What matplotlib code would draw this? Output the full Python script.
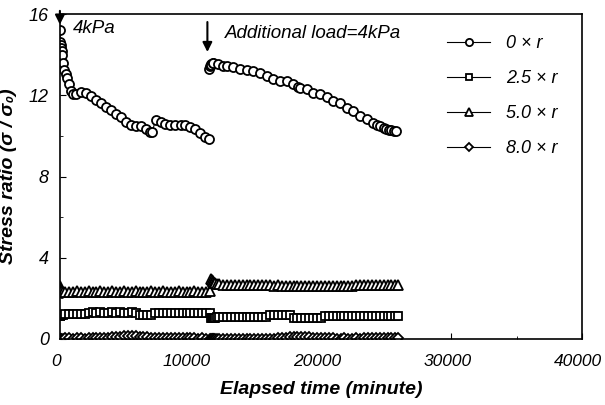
import matplotlib
matplotlib.use("Agg")
import matplotlib.pyplot as plt
from matplotlib.ticker import MultipleLocator
from matplotlib.transforms import ScaledTranslation

plt.rcParams["font.family"] = ["Liberation Sans", "DejaVu Sans"]

# 0 x r series (circles), before and after the additional load
t_c1 = [0, 30, 60, 90, 130, 170, 250, 330, 450, 580, 710, 840, 1000, 1220,
        1600, 1980, 2370, 2750, 3130, 3510, 3890, 4270, 4650, 5040, 5420,
        5800, 6180, 6560, 6940, 7070, 7330, 7710, 8090, 8470, 8850, 9240,
        9620, 10000, 10380, 10760, 11140, 11400]
s_c1 = [15.2, 14.65, 14.5, 14.35, 14.2, 14.0, 13.6, 13.25, 13.05, 12.85,
        12.55, 12.2, 12.08, 12.05, 12.15, 12.12, 11.95, 11.75, 11.6, 11.45,
        11.3, 11.1, 10.93, 10.7, 10.55, 10.5, 10.5, 10.35, 10.22, 10.2,
        10.78, 10.68, 10.6, 10.55, 10.55, 10.55, 10.55, 10.45, 10.35, 10.15,
        9.95, 9.85]
t_c2 = [11450, 11500, 11550, 11600, 11700, 11750, 12130, 12510, 12800,
        13300, 13820, 14330, 14830, 15340, 15850, 16360, 16870, 17380,
        17890, 18270, 18400, 18910, 19410, 19920, 20430, 20940, 21450,
        21960, 22470, 22980, 23490, 24000, 24300, 24500, 24800, 25010,
        25200, 25400, 25600, 25780]
s_c2 = [13.3, 13.45, 13.55, 13.5, 13.6, 13.6, 13.55, 13.45, 13.45, 13.4,
        13.28, 13.25, 13.2, 13.1, 12.95, 12.83, 12.7, 12.7, 12.55, 12.43,
        12.38, 12.3, 12.13, 12.05, 11.9, 11.72, 11.6, 11.4, 11.23, 11.0,
        10.82, 10.62, 10.55, 10.5, 10.4, 10.32, 10.3, 10.27, 10.25, 10.24]

# dense records for 2.5 x r, 5.0 x r, 8.0 x r
t_d1 = [0, 20, 50, 100, 200, 400, 700, 1000, 1300, 1600, 1900, 2200, 2500,
        2800, 3100, 3400, 3700, 4000, 4300, 4600, 4900, 5200, 5500, 5800,
        6100, 6400, 6700, 7000, 7300, 7600, 7900, 8200, 8500, 8800, 9100,
        9400, 9700, 10000, 10300, 10600, 10900, 11200, 11500]
tri_1 = [2.6, 2.5, 2.42, 2.36, 2.33, 2.32, 2.33, 2.32, 2.34, 2.33, 2.32,
         2.34, 2.33, 2.33, 2.34, 2.32, 2.33, 2.34, 2.33, 2.32, 2.34, 2.33,
         2.33, 2.34, 2.32, 2.33, 2.33, 2.34, 2.32, 2.33, 2.34, 2.33, 2.32,
         2.33, 2.34, 2.33, 2.32, 2.33, 2.34, 2.33, 2.32, 2.33, 2.34]
sq_1 = [1.15, 1.15, 1.16, 1.18, 1.2, 1.22, 1.22, 1.23, 1.24, 1.25, 1.25,
        1.3, 1.31, 1.3, 1.31, 1.3, 1.3, 1.31, 1.3, 1.31, 1.3, 1.3, 1.31,
        1.3, 1.18, 1.17, 1.18, 1.18, 1.27, 1.27, 1.28, 1.27, 1.27, 1.28,
        1.27, 1.27, 1.28, 1.27, 1.27, 1.27, 1.26, 1.27, 1.26]
dia_1 = [0.0, 0.0, 0.0, 0.0, 0.02, 0.03, 0.03, 0.02, 0.03, 0.03, 0.02, 0.03,
         0.04, 0.04, 0.05, 0.05, 0.06, 0.08, 0.1, 0.12, 0.13, 0.14, 0.15,
         0.14, 0.12, 0.1, 0.08, 0.06, 0.05, 0.04, 0.04, 0.03, 0.04, 0.03,
         0.03, 0.04, 0.03, 0.03, 0.03, 0.02, 0.03, 0.02, 0.02]
t_d2 = [11600, 11650, 11700, 11750, 11800, 11900, 12000, 12200, 12500,
        12800, 13100, 13400, 13700, 14000, 14300, 14600, 14900, 15200,
        15500, 15800, 16100, 16400, 16700, 17000, 17300, 17600, 17900,
        18200, 18500, 18800, 19100, 19400, 19700, 20000, 20300, 20600,
        20900, 21200, 21500, 21800, 22100, 22400, 22700, 23000, 23300,
        23600, 23900, 24200, 24500, 24800, 25100, 25400, 25700, 25900]
tri_2 = [2.95, 2.9, 2.86, 2.82, 2.78, 2.75, 2.72, 2.7, 2.68, 2.68, 2.67,
         2.67, 2.66, 2.66, 2.65, 2.66, 2.65, 2.64, 2.65, 2.64, 2.64, 2.63,
         2.64, 2.63, 2.62, 2.63, 2.62, 2.62, 2.61, 2.62, 2.61, 2.62, 2.61,
         2.6, 2.61, 2.6, 2.61, 2.6, 2.6, 2.61, 2.62, 2.63, 2.64, 2.65, 2.65,
         2.66, 2.67, 2.67, 2.68, 2.68, 2.67, 2.68, 2.68, 2.68]
sq_2 = [1.02, 1.02, 1.03, 1.03, 1.04, 1.05, 1.06, 1.08, 1.08, 1.08, 1.09,
        1.08, 1.08, 1.09, 1.08, 1.08, 1.09, 1.08, 1.08, 1.09, 1.17, 1.17,
        1.18, 1.17, 1.17, 1.17, 1.03, 1.02, 1.03, 1.02, 1.03, 1.02, 1.03,
        1.02, 1.12, 1.12, 1.13, 1.12, 1.12, 1.13, 1.12, 1.12, 1.12, 1.13,
        1.12, 1.12, 1.13, 1.12, 1.12, 1.13, 1.12, 1.12, 1.13, 1.13]
dia_2 = [0.0, 0.0, 0.0, 0.0, 0.0, 0.0, 0.01, 0.01, 0.0, 0.01, 0.0, 0.01,
         0.0, 0.01, 0.0, 0.01, 0.0, 0.01, 0.0, 0.01, 0.01, 0.02, 0.03, 0.04,
         0.06, 0.08, 0.1, 0.11, 0.1, 0.09, 0.08, 0.07, 0.06, 0.05, 0.04,
         0.03, 0.03, 0.02, 0.02, 0.03, 0.02, 0.02, 0.03, 0.02, 0.03, 0.04,
         0.05, 0.06, 0.06, 0.05, 0.05, 0.05, 0.04, 0.03]

labels = ["0 × r", "2.5 × r", "5.0 × r", "8.0 × r"]

fig = plt.figure(figsize=(6.05, 4.05), dpi=100)
ax = fig.add_axes([0.099, 0.163, 0.863, 0.802])

style = dict(color="black", markerfacecolor="white", markeredgecolor="black",
             linewidth=0.8, markeredgewidth=1.3)

ax.plot(t_c1, s_c1, marker="o", markersize=6.5, label=labels[0], **style)
ax.plot(t_c2, s_c2, marker="o", markersize=6.5, **style)
ax.plot(t_d1, sq_1, marker="s", markersize=5.5, label=labels[1], **style)
ax.plot(t_d2, sq_2, marker="s", markersize=5.5, **style)
ax.plot(t_d1, tri_1, marker="^", markersize=7, label=labels[2], **style)
ax.plot(t_d2, tri_2, marker="^", markersize=7, **style)
ax.plot(t_d1, dia_1, marker="D", markersize=5.5, label=labels[3], **style)
ax.plot(t_d2, dia_2, marker="D", markersize=5.5, **style)

ax.set_xlim(0, 40000)
ax.set_ylim(0, 16)
ax.xaxis.set_major_locator(MultipleLocator(10000))
ax.xaxis.set_minor_locator(MultipleLocator(5000))
ax.yaxis.set_major_locator(MultipleLocator(4))
ax.yaxis.set_minor_locator(MultipleLocator(2))
ax.tick_params(which="both", direction="in")
ax.tick_params(axis="x", pad=11, labelsize=12.5)
ax.tick_params(axis="y", pad=8, labelsize=13)
ax.tick_params(which="major", length=4)
ax.tick_params(which="minor", length=2)
shift = ScaledTranslation(-4 / 100, 0, fig.dpi_scale_trans)
for lab in ax.get_xticklabels():
    lab.set_fontstyle("italic")
    lab.set_transform(lab.get_transform() + shift)
for lab in ax.get_yticklabels():
    lab.set_fontstyle("italic")
for sp in ax.spines.values():
    sp.set_linewidth(1.2)

ax.set_xlabel("Elapsed time (minute)", fontsize=14, fontweight="bold",
              fontstyle="italic")
ax.xaxis.set_label_coords(0.5, -0.13)
ax.set_ylabel("Stress ratio (σ / σ₀)", fontsize=14, fontweight="bold",
              fontstyle="italic")
ax.yaxis.set_label_coords(-0.082, 0.5)

# load arrows
ax.annotate("", xy=(0, 15.35), xytext=(0, 16.3),
            arrowprops=dict(arrowstyle="-|>", color="black", lw=1.5,
                            mutation_scale=14), annotation_clip=False)
ax.text(1000, 15.3, "4kPa", fontsize=13.5, fontstyle="italic", va="center")
ax.annotate("", xy=(11300, 14.0), xytext=(11300, 15.75),
            arrowprops=dict(arrowstyle="-|>", color="black", lw=1.5,
                            mutation_scale=14))
ax.text(12650, 15.07, "Additional load=4kPa", fontsize=13.5,
        fontstyle="italic", va="center")

leg = ax.legend(loc="upper right", bbox_to_anchor=(0.985, 0.985), frameon=False,
                numpoints=1, handlelength=2.4, labelspacing=1.0,
                handletextpad=0.9, markerscale=0.8,
                prop=dict(size=13, style="italic"))

fig.savefig("out.png", dpi=100)
